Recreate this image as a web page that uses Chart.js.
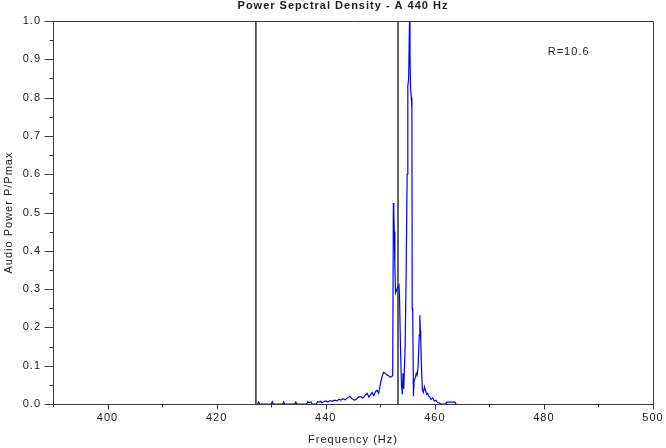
<!DOCTYPE html>
<html>
<head>
<meta charset="utf-8">
<script src="https://cdn.jsdelivr.net/npm/chart.js@4/dist/chart.umd.min.js"></script>
<style>
html,body{margin:0;padding:0;background:#ffffff;}
#wrap{width:666px;height:448px;}
canvas{display:block;}
</style>
</head>
<body>
<div id="wrap"><canvas id="c" width="666" height="448"></canvas></div>
<script>
// ---- text ----
const titleText = 'Power Sepctral Density - A 440 Hz';
const xAxisTitle = 'Frequency (Hz)';
const yAxisTitle = 'Audio Power P/Pmax';
const annotationText = 'R=10.6';
const annotationAt = [480.7, 0.92];

// ---- axes ----
const xRange = [390, 500];
const xTickStep = 10;
const xLabelStep = 20;
const yRange = [0, 1];
const yTickStep = 0.05;
const yLabelStep = 0.1;

// ---- vertical marker lines (Hz) ----
const markerFreqs = [427.2, 453.25];

// ---- spectrum ----
const freqHz = [
  427.5, 427.7, 427.9, 430.0, 430.2, 430.4, 432.1, 432.3, 432.5, 434.3, 434.5, 434.7,
  436.5, 436.7, 437.0, 437.3, 437.5, 438.3, 438.5, 438.8, 439.1, 439.3,
  439.6, 440.0, 440.4, 440.8, 441.2, 441.6, 442.0, 442.4, 442.8, 443.2, 443.6, 444.0,
  444.4, 444.8, 445.2, 445.6, 446.0, 446.4, 446.8, 447.2, 447.6, 447.9, 448.2, 448.5,
  448.8, 449.1, 449.4, 449.7, 450.0, 450.3, 450.6, 450.9, 451.2, 451.5, 451.8, 452.1,
  452.28, 452.4, 452.48, 452.57, 452.68, 452.8, 453.06, 453.43, 453.53, 453.7, 453.89,
  454.04, 454.17, 454.31, 454.44, 454.56, 454.75, 454.93, 455.05, 455.2, 455.36, 455.45,
  455.54, 455.7, 455.8, 455.85, 455.95, 456.08, 456.2, 456.45, 456.6, 456.75, 456.95,
  457.15, 457.25, 457.35, 457.42, 457.57, 457.72, 457.9, 458.1, 458.3, 458.5, 458.7, 458.9,
  459.1, 459.3, 459.6, 459.9, 460.2, 460.5, 460.8, 461.1, 462.0, 462.2, 463.7, 463.9
];
const powerRatio = [
  0.000, 0.005, 0.000, 0.000, 0.006, 0.000, 0.000, 0.005, 0.000, 0.000, 0.005, 0.000,
  0.000, 0.006, 0.004, 0.006, 0.000, 0.000, 0.006, 0.005, 0.007, 0.003,
  0.006, 0.008, 0.005, 0.009, 0.007, 0.010, 0.008, 0.012, 0.010, 0.014, 0.011, 0.016,
  0.020, 0.014, 0.010, 0.012, 0.018, 0.020, 0.015, 0.022, 0.028, 0.018, 0.024, 0.030,
  0.022, 0.032, 0.036, 0.028, 0.050, 0.070, 0.083, 0.080, 0.076, 0.074, 0.070, 0.072,
  0.075, 0.525, 0.500, 0.450, 0.360, 0.290, 0.300, 0.310, 0.280, 0.150, 0.050,
  0.025, 0.080, 0.040, 0.100, 0.150, 0.350, 0.600, 0.830, 0.850, 1.000, 0.910,
  0.830, 0.800, 0.770, 0.250, 0.240, 0.020, 0.060, 0.070, 0.080, 0.075, 0.100,
  0.180, 0.232, 0.190, 0.167, 0.090, 0.036, 0.030, 0.045, 0.035, 0.025, 0.028, 0.020,
  0.018, 0.012, 0.016, 0.008, 0.010, 0.004, 0.003, 0.000, 0.000, 0.005, 0.005, 0.000
];

const FONT = '"Liberation Sans", Arial, Helvetica, sans-serif';
const TEXT_COLOR = '#1a1a1a';
const AXIS_COLOR = '#3a3a3a';

Chart.defaults.font.family = FONT;
Chart.defaults.font.size = 11;
Chart.defaults.color = TEXT_COLOR;

const spectrumPoints = freqHz.map((f, i) => ({ x: f, y: powerRatio[i] }));
const markerDatasets = markerFreqs.map(f => ({
  data: [{ x: f, y: yRange[0] }, { x: f, y: yRange[1] }],
  borderColor: '#222222',
  borderWidth: 1.4,
  pointRadius: 0,
  showLine: true,
  order: 2
}));

function near(v, step) {
  const r = v / step;
  return Math.abs(r - Math.round(r)) < 1e-6;
}

const framePlugin = {
  id: 'frameAndText',
  beforeLayout(chart) { chart.ctx.letterSpacing = '1px'; },
  beforeDraw(chart) { chart.ctx.letterSpacing = '1px'; },
  afterDatasetsDraw(chart) {
    const ctx = chart.ctx;
    const a = chart.chartArea;
    const xs = chart.scales.x, ys = chart.scales.y;
    const L = Math.round(a.left) + 0.5, R = Math.round(a.right) + 0.5;
    const T = Math.round(a.top) + 0.5, B = Math.round(a.bottom) + 0.5;
    ctx.save();
    ctx.strokeStyle = AXIS_COLOR;
    ctx.lineWidth = 1;
    ctx.beginPath();
    ctx.rect(L, T, R - L, B - T);
    for (let v = xRange[0]; v <= xRange[1] + 1e-9; v += xTickStep) {
      const px = Math.round(xs.getPixelForValue(v)) + 0.5;
      const len = near(v, xLabelStep) ? 5 : 3;
      ctx.moveTo(px, B);
      ctx.lineTo(px, B + len);
    }
    for (let i = 0; i <= Math.round((yRange[1] - yRange[0]) / yTickStep); i++) {
      const v = yRange[0] + i * yTickStep;
      const py = Math.round(ys.getPixelForValue(v)) + 0.5;
      const len = near(v, yLabelStep) ? 9 : 4;
      ctx.moveTo(L, py);
      ctx.lineTo(L - len, py);
    }
    ctx.stroke();

    ctx.letterSpacing = '1px';
    ctx.fillStyle = TEXT_COLOR;
    ctx.font = '11px ' + FONT;
    ctx.textAlign = 'left';
    ctx.textBaseline = 'middle';
    ctx.fillText(annotationText, xs.getPixelForValue(annotationAt[0]), ys.getPixelForValue(annotationAt[1]));

    ctx.font = 'bold 11px ' + FONT;
    ctx.textAlign = 'center';
    ctx.textBaseline = 'alphabetic';
    ctx.fillText(titleText, (a.left + a.right) / 2 - 10, 9);
    ctx.restore();
  }
};

new Chart(document.getElementById('c'), {
  type: 'line',
  data: {
    datasets: [
      {
        data: spectrumPoints,
        borderColor: 'rgb(0,0,255)',
        borderWidth: 1.2,
        pointRadius: 0,
        tension: 0,
        showLine: true,
        order: 1
      },
      ...markerDatasets
    ]
  },
  options: {
    responsive: false,
    animation: false,
    devicePixelRatio: 1,
    layout: { padding: { top: 21, right: 13, left: 0, bottom: 0 } },
    plugins: {
      legend: { display: false },
      tooltip: { enabled: false },
      title: { display: false }
    },
    scales: {
      x: {
        type: 'linear',
        position: 'bottom',
        min: xRange[0],
        max: xRange[1],
        border: { display: false },
        grid: { drawOnChartArea: false, drawTicks: true, tickLength: 5, tickColor: 'rgba(0,0,0,0)' },
        ticks: {
          stepSize: xTickStep,
          autoSkip: false,
          maxRotation: 0,
          padding: 2,
          color: TEXT_COLOR,
          font: { size: 11 },
          callback: v => near(v, xLabelStep) ? String(Math.round(v)) : ''
        },
        title: {
          display: true,
          text: xAxisTitle,
          color: TEXT_COLOR,
          font: { size: 11 },
          padding: { top: 4, bottom: 1 }
        },
        afterFit(s) { s.height = 44; }
      },
      y: {
        type: 'linear',
        position: 'left',
        min: yRange[0],
        max: yRange[1],
        border: { display: false },
        grid: { drawOnChartArea: false, drawTicks: true, tickLength: 9, tickColor: 'rgba(0,0,0,0)' },
        ticks: {
          stepSize: yTickStep,
          autoSkip: false,
          padding: 3,
          color: TEXT_COLOR,
          font: { size: 11 },
          callback: v => near(v, yLabelStep) ? Number(v).toFixed(1) : ''
        },
        title: {
          display: true,
          text: yAxisTitle,
          color: TEXT_COLOR,
          font: { size: 11 },
          padding: { top: 2, bottom: 2 }
        },
        afterFit(s) { s.width = 53; }
      }
    }
  },
  plugins: [framePlugin]
});
</script>
</body>
</html>
